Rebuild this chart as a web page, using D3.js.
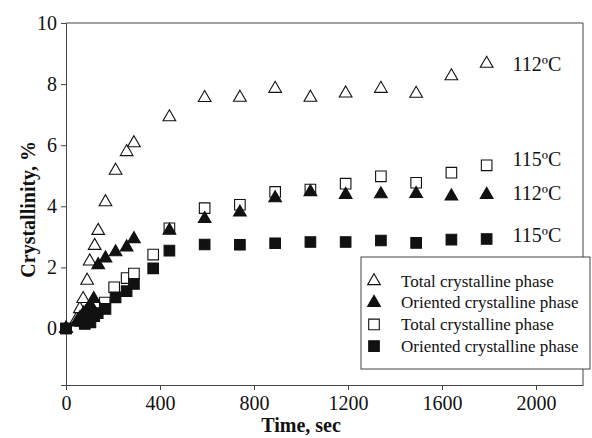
<!DOCTYPE html>
<html>
<head>
<meta charset="utf-8">
<script src="https://cdn.jsdelivr.net/npm/d3@7"></script>
<style>
  html, body { margin: 0; padding: 0; background: #fff; }
  svg text { font-family: "Liberation Serif", "Times New Roman", serif; fill: #111; }
</style>
</head>
<body>
<svg id="chart" width="592" height="438"></svg>
<script>
// ─── Data ───────────────────────────────────────────────────
// Total crystalline phase, 112ºC (open triangles)
const total112Time = [0, 45, 59, 73, 90, 101, 122, 137, 168, 211, 258, 289, 440, 590, 740, 890, 1040, 1190, 1340, 1490, 1640, 1790];
const total112Val  = [0, 0.3, 0.64, 0.97, 1.57, 2.2, 2.71, 3.2, 4.14, 5.17, 5.78, 6.07, 6.92, 7.55, 7.56, 7.85, 7.56, 7.7, 7.85, 7.69, 8.26, 8.67];

// Oriented crystalline phase, 112ºC (filled triangles)
const orient112Time = [0, 45, 60, 75, 90, 105, 118, 137, 168, 211, 258, 289, 440, 590, 740, 890, 1040, 1190, 1340, 1490, 1640, 1790];
const orient112Val  = [0, 0.2, 0.35, 0.5, 0.6, 0.75, 0.97, 2.08, 2.3, 2.5, 2.66, 2.93, 3.21, 3.59, 3.8, 4.27, 4.47, 4.38, 4.4, 4.41, 4.33, 4.38];

// Total crystalline phase, 115ºC (open squares)
const total115Time = [0, 60, 90, 105, 126, 165, 205, 258, 289, 371, 440, 590, 740, 890, 1040, 1190, 1340, 1490, 1640, 1790];
const total115Val  = [0, 0.25, 0.45, 0.6, 0.75, 0.85, 1.35, 1.65, 1.8, 2.42, 3.28, 3.94, 4.05, 4.47, 4.55, 4.74, 4.98, 4.77, 5.1, 5.34];

// Oriented crystalline phase, 115ºC (filled squares)
const orient115Time = [0, 80, 104, 120, 135, 168, 211, 258, 289, 371, 440, 590, 740, 890, 1040, 1190, 1340, 1490, 1640, 1790];
const orient115Val  = [0, 0.15, 0.2, 0.4, 0.5, 0.64, 1.02, 1.22, 1.46, 1.97, 2.55, 2.75, 2.74, 2.79, 2.83, 2.83, 2.88, 2.8, 2.91, 2.93];

const xTicks = [0, 400, 800, 1200, 1600, 2000];
const yTicks = [0, 2, 4, 6, 8, 10];

const endLabels = [
  { text: "112ºC", value: 8.67 },
  { text: "115ºC", value: 5.55 },
  { text: "112ºC", value: 4.45 },
  { text: "115ºC", value: 3.05 }
];

const legendItems = [
  { label: "Total crystalline phase", shape: "triangle", filled: false },
  { label: "Oriented crystalline phase", shape: "triangle", filled: true },
  { label: "Total crystalline phase", shape: "square", filled: false },
  { label: "Oriented crystalline phase", shape: "square", filled: true }
];

// ─── Layout ─────────────────────────────────────────────────
const margin = { left: 66, top: 23, right: 9, bottom: 53 };
const W = 592, H = 438;
const innerW = W - margin.left - margin.right;
const innerH = H - margin.top - margin.bottom;
const axisColor = "#444";

const svg = d3.select("#chart");
const g = svg.append("g").attr("transform", `translate(${margin.left},${margin.top})`);

const x = d3.scaleLinear().domain([0, 2200]).range([0, innerW]);
const y = d3.scaleLinear().domain([-1.85, 10]).range([innerH, 0]);

// frame (top + right)
g.append("path")
  .attr("d", `M0,0H${innerW}V${innerH}`)
  .attr("fill", "none")
  .attr("stroke", axisColor)
  .attr("stroke-width", 1);

// axes
const xAxis = g.append("g")
  .attr("transform", `translate(0,${innerH})`)
  .call(d3.axisBottom(x).tickValues(xTicks).tickFormat(d3.format("d"))
    .tickSize(5).tickSizeOuter(0).tickPadding(6));
const yAxis = g.append("g")
  .call(d3.axisLeft(y).tickValues(yTicks).tickFormat(d3.format("d"))
    .tickSize(5).tickSizeOuter(5).tickPadding(4));

[xAxis, yAxis].forEach((ax) => {
  ax.selectAll("path, line").attr("stroke", axisColor);
  ax.selectAll("text")
    .attr("font-family", '"Liberation Serif", serif')
    .attr("font-size", 20)
    .attr("fill", "#111");
});

// axis titles
svg.append("text")
  .attr("x", margin.left + x(1000))
  .attr("y", 432)
  .attr("text-anchor", "middle")
  .attr("font-size", 20)
  .attr("font-weight", "bold")
  .text("Time, sec");

svg.append("text")
  .attr("transform", `translate(28,${margin.top + y(3.9)}) rotate(-90)`)
  .attr("text-anchor", "middle")
  .attr("dominant-baseline", "central")
  .attr("font-size", 20)
  .attr("font-weight", "bold")
  .text("Crystallinity, %");

// ─── Markers ────────────────────────────────────────────────
const triSym = d3.symbol().type(d3.symbolTriangle).size(70);
const sqSym = d3.symbol().type(d3.symbolSquare).size(112);

function drawSeries(times, vals, sym, filled) {
  g.append("g")
    .selectAll("path")
    .data(times.map((t, i) => ({ t, v: vals[i] })))
    .enter()
    .append("path")
    .attr("d", sym)
    .attr("transform", (d) => `translate(${x(d.t)},${y(d.v)})`)
    .attr("fill", filled ? "#111" : "#fff")
    .attr("stroke", "#111")
    .attr("stroke-width", 1.1);
}

drawSeries(total115Time, total115Val, sqSym, false);
drawSeries(total112Time, total112Val, triSym, false);
drawSeries(orient112Time, orient112Val, triSym, true);
drawSeries(orient115Time, orient115Val, sqSym, true);

// end labels
g.append("g")
  .selectAll("text")
  .data(endLabels)
  .enter()
  .append("text")
  .attr("x", x(1900))
  .attr("y", (d) => y(d.value))
  .attr("dominant-baseline", "central")
  .attr("font-size", 20)
  .text((d) => d.text);

// ─── Legend ─────────────────────────────────────────────────
const legend = svg.append("g").attr("transform", "translate(361,257)");
legend.append("rect")
  .attr("width", 229)
  .attr("height", 112)
  .attr("fill", "#fff")
  .attr("stroke", axisColor)
  .attr("stroke-width", 1);

legendItems.forEach((item, i) => {
  const cy = 24 + i * 21.7;
  legend.append("path")
    .attr("d", item.shape === "triangle" ? triSym : sqSym)
    .attr("transform", `translate(13,${cy})`)
    .attr("fill", item.filled ? "#111" : "#fff")
    .attr("stroke", "#111")
    .attr("stroke-width", 1.1);
  legend.append("text")
    .attr("x", 40)
    .attr("y", cy)
    .attr("dominant-baseline", "central")
    .attr("font-size", 17)
    .text(item.label);
});
</script>
</body>
</html>
